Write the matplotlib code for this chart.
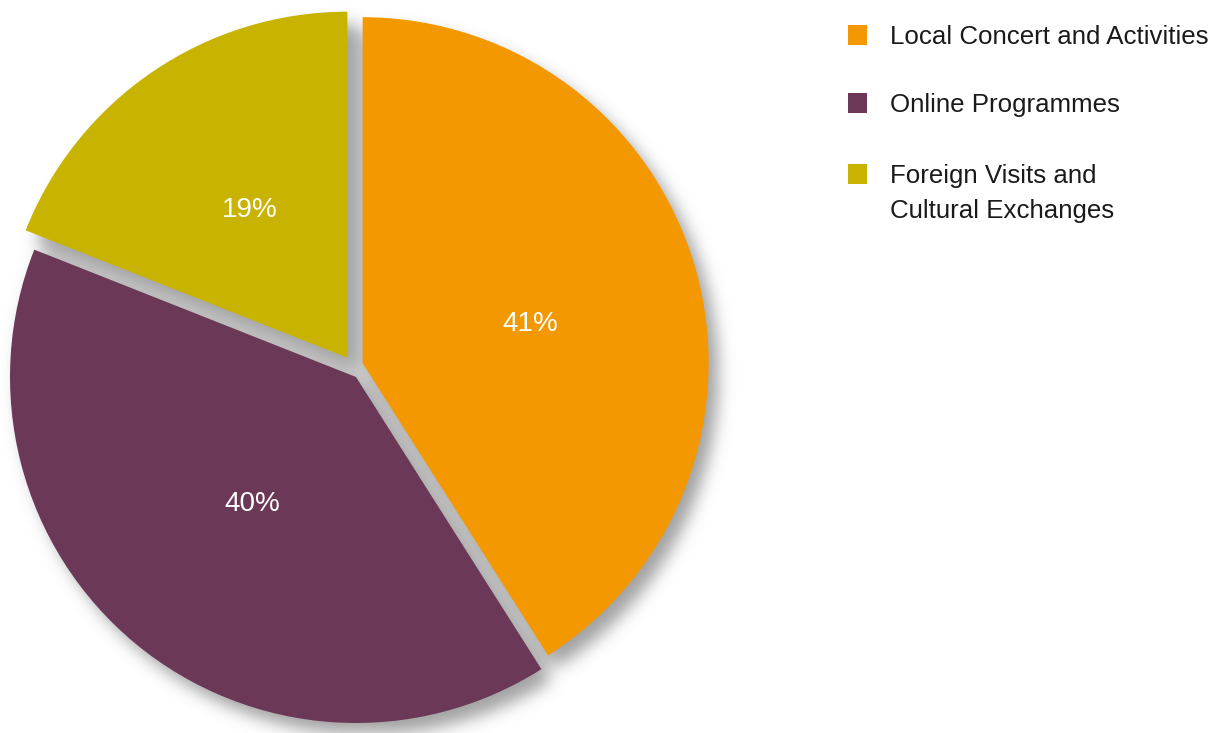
import numpy as np
import matplotlib.pyplot as plt
from matplotlib.patches import Rectangle

plt.rcParams['font.family'] = ['Liberation Sans', 'DejaVu Sans']

# data
labels = ['Local Concert and Activities', 'Online Programmes', 'Foreign Visits and\nCultural Exchanges']
shares = [41, 40, 19]
colors = ['#F39800', '#6B3858', '#C8B400']
explode = [0.029, 0.0, 0.029]

W, H = 1215, 733
R = 346            # pie radius in px
cx, cy = 353, 366  # pie centre in px (from top-left)
axw = 790

fig = plt.figure(figsize=(W / 100, H / 100), dpi=100)
ax = fig.add_axes([0, 0, axw / W, 1])

wedges, texts, autotexts = ax.pie(
    shares, colors=colors, explode=explode, startangle=90, counterclock=False,
    autopct=lambda p: f'{p:.0f}%', pctdistance=0.5,
    textprops=dict(color='white', fontsize=20),
    wedgeprops=dict(linewidth=0, zorder=3))

# the purple slice sits a little lower/right than a plain explode would put it
shift = (3 / R, -11 / R)
wedges[1].set_center((shift[0], shift[1]))
# small label nudges (px) so the percentages sit where the original has them
nudge = [(1, -9), (7, 6), (0, 5)]
for i, t in enumerate(autotexts):
    x, y = t.get_position()
    if i == 1:
        x, y = x + shift[0], y + shift[1]
    t.set_position((x + nudge[i][0] / R, y + nudge[i][1] / R))
    t.set_zorder(5)

xlim = (-cx / R, (axw - cx) / R)
ylim = (-(H - cy) / R, cy / R)

# soft drop shadow: slices (plus a lighter whole disc for the gaps), shifted and blurred
nx, ny = axw, H
xs = np.linspace(xlim[0], xlim[1], nx)
ys = np.linspace(ylim[0], ylim[1], ny)
X, Y = np.meshgrid(xs, ys)
off = (10 / R, -12 / R)
mask = 0.55 * (np.hypot(X - off[0], Y - off[1]) <= 1.0)
for w in wedges:
    x0, y0 = w.center
    dx = X - (x0 + off[0])
    dy = Y - (y0 + off[1])
    rr = np.hypot(dx, dy)
    ang = np.degrees(np.arctan2(dy, dx)) % 360
    inside = ((ang - w.theta1) % 360 <= (w.theta2 - w.theta1)) & (rr <= w.r)
    mask[inside] = 1.0

sigma = 8
k = np.arange(-3 * sigma, 3 * sigma + 1)
kern = np.exp(-k**2 / (2 * sigma**2))
kern /= kern.sum()
pad = 3 * sigma
m = np.pad(mask, pad)
m = np.apply_along_axis(lambda r: np.convolve(r, kern, mode='same'), 1, m)
m = np.apply_along_axis(lambda c: np.convolve(c, kern, mode='same'), 0, m)
m = m[pad:-pad, pad:-pad]

img = np.zeros((ny, nx, 4))
img[..., :3] = 0.48
img[..., 3] = m * 0.7
ax.imshow(img, extent=(xlim[0], xlim[1], ylim[0], ylim[1]), origin='lower',
          zorder=1, interpolation='bilinear', aspect='auto')
ax.set_xlim(*xlim)
ax.set_ylim(*ylim)
ax.set_aspect('equal')
ax.axis('off')

# legend
row_y = [37, 105, 176]
sq = 19
for lab, col, yc in zip(labels, colors, row_y):
    fig.add_artist(Rectangle((848 / W, 1 - (yc - 2 + sq / 2) / H), sq / W, sq / H,
                             transform=fig.transFigure, facecolor=col, edgecolor='none'))
    for i, line in enumerate(lab.split('\n')):
        fig.text(890 / W, 1 - (yc + i * 35) / H, line, fontsize=18.6,
                 color='#1a1a1a', va='center', ha='left')

fig.savefig('out.png', dpi=100)
